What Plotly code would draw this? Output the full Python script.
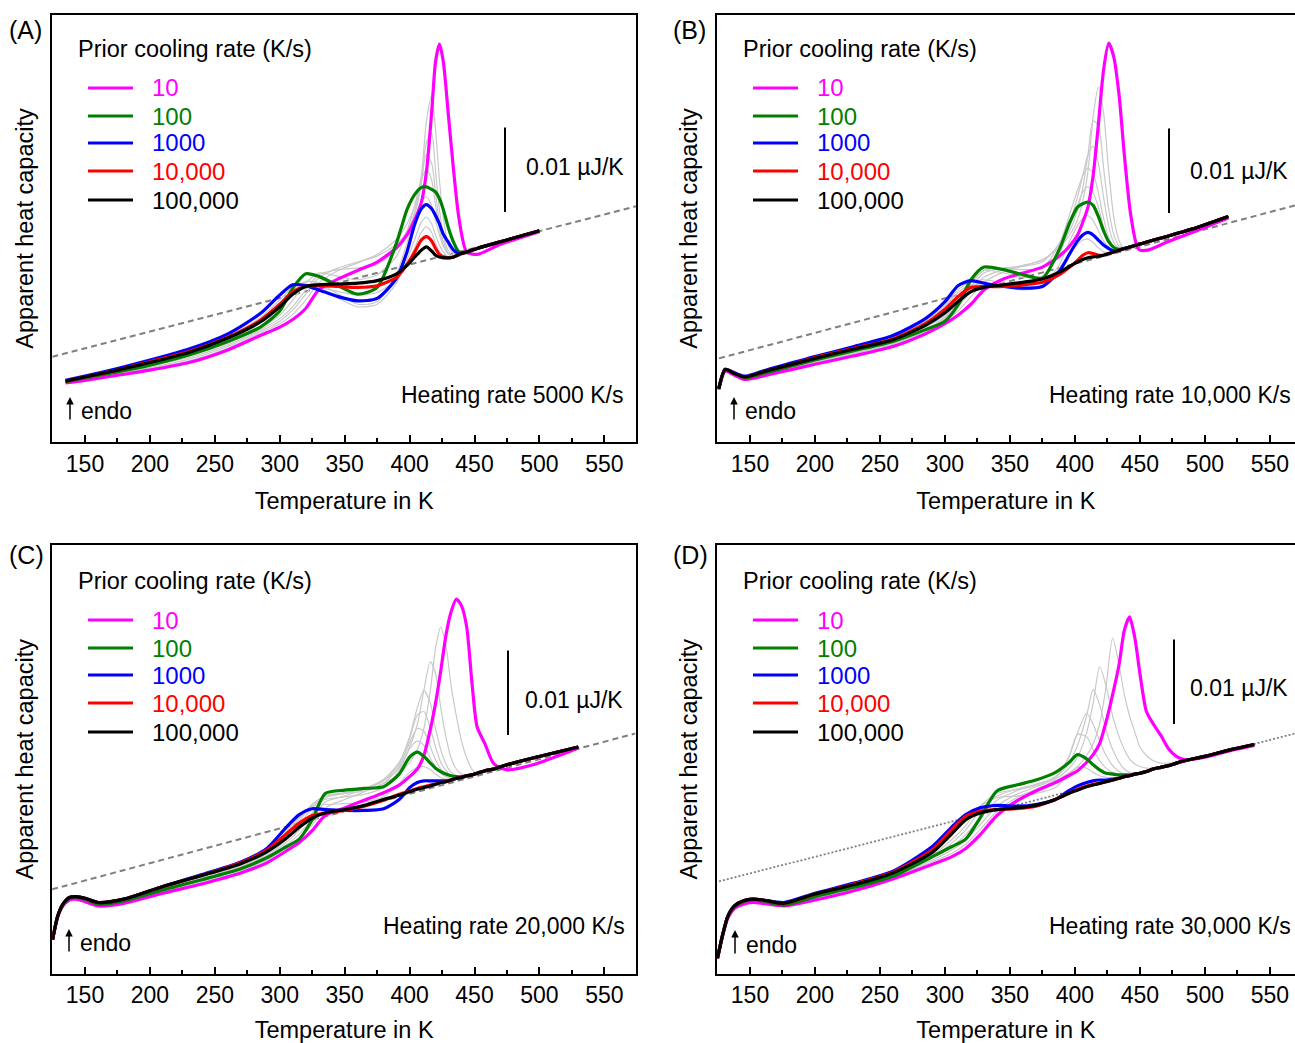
import plotly.graph_objects as go

W, H = 1295, 1043
FONT = "Liberation Sans, Arial, Helvetica, sans-serif"

# ---------------- labels ----------------
RATES = ["10", "100", "1000", "10,000", "100,000"]
COLORS = ["#ff00ff", "#008000", "#0000ff", "#ff0000", "#000000"]
HEATING = ["5000", "10,000", "20,000", "30,000"]
PANEL_TAGS = ["(A)", "(B)", "(C)", "(D)"]
LEGEND_TITLE = "Prior cooling rate (K/s)"
SCALE_UNITS = 10.0  # 0.01 uJ/K, y values are in units of 0.001 uJ/K (arbitrary offset)

# ---------------- panel A : heating 5000 K/s ----------------
TA = [135, 150, 175, 200, 230, 260, 285, 300, 310, 320, 330, 345, 360, 375, 390, 398, 404, 409, 413, 417,
      420, 423, 426, 430, 434, 438, 444, 452, 470, 500]
A_magenta = [7.0, 7.3, 7.9, 8.5, 9.4, 10.9, 12.6, 13.6, 14.5, 15.8, 18.0, 19.3, 20.3, 21.3, 23.0, 24.5, 26.3, 28.3, 32.0, 39.0,
             45.0, 47.1, 45.0, 38.5, 32.0, 26.5, 22.5, 22.2, 23.4, 24.9]
A_green = [7.1, 7.6, 8.3, 9.1, 10.3, 11.9, 13.6, 15.5, 18.2, 19.9, 19.6, 18.5, 17.5, 18.3, 23.6, 27.5, 29.3, 30.1, 30.2, 29.9,
           29.6, 28.8, 27.5, 25.3, 23.6, 22.5, 22.4, 22.9, 23.7, 25.0]
A_blue = [7.3, 7.8, 8.7, 9.7, 11.0, 12.8, 15.2, 17.4, 18.6, 18.5, 18.0, 17.2, 16.7, 17.0, 19.4, 22.5, 25.8, 27.6, 28.1, 27.6,
          26.8, 25.8, 24.6, 23.6, 22.7, 22.3, 22.5, 22.9, 23.7, 25.0]
A_red = [7.2, 7.7, 8.5, 9.5, 10.7, 12.4, 14.4, 16.3, 17.8, 18.4, 18.5, 18.4, 18.3, 18.5, 19.5, 21.0, 22.5, 23.9, 24.3, 23.8,
         22.9, 22.2, 21.9, 21.8, 21.9, 22.2, 22.5, 22.9, 23.7, 25.0]
A_black = [7.2, 7.7, 8.5, 9.4, 10.6, 12.3, 14.2, 16.0, 17.5, 18.4, 18.6, 18.7, 18.8, 19.1, 19.9, 20.9, 21.9, 22.7, 23.1, 22.6,
           22.1, 21.9, 21.8, 21.8, 21.9, 22.2, 22.5, 22.9, 23.7, 25.0]
A_gray_1 = [7.0, 7.4, 8.0, 8.7, 9.6, 11.1, 12.9, 14.0, 15.1, 16.8, 18.8, 20.3, 21.2, 22.2, 24.0, 25.8, 28.0, 31.5, 38.0, 41.0,
            37.0, 31.0, 26.5, 23.2, 22.3, 22.2, 22.4, 22.8, 23.6, 25.0]
A_gray_2 = [7.0, 7.5, 8.1, 8.8, 9.8, 11.3, 13.1, 14.3, 15.6, 17.5, 19.4, 20.6, 21.3, 22.0, 23.4, 24.9, 27.0, 30.5, 35.5, 36.5,
            32.0, 27.5, 24.5, 22.6, 22.0, 22.1, 22.4, 22.8, 23.6, 25.0]
A_gray_3 = [7.0, 7.5, 8.2, 9.0, 10.0, 11.5, 13.3, 14.6, 16.0, 18.0, 19.8, 20.4, 20.6, 21.0, 22.8, 24.8, 27.3, 31.0, 34.0, 33.0,
            29.5, 26.0, 23.8, 22.3, 21.9, 22.0, 22.4, 22.8, 23.6, 25.0]
A_gray_4 = [7.1, 7.6, 8.3, 9.1, 10.2, 11.7, 13.5, 15.0, 16.8, 18.8, 20.0, 19.6, 19.2, 19.8, 22.0, 25.0, 28.0, 31.0, 32.3, 31.0,
            28.0, 25.2, 23.4, 22.2, 21.9, 22.0, 22.4, 22.8, 23.6, 25.0]
A_gray_5 = [7.2, 7.7, 8.5, 9.4, 10.6, 12.2, 14.2, 16.0, 17.8, 19.0, 18.8, 17.5, 16.3, 16.6, 20.0, 23.5, 26.5, 28.5, 29.0, 28.0,
            26.2, 24.5, 23.2, 22.2, 21.9, 22.0, 22.4, 22.8, 23.6, 25.0]
A_gray_6 = [7.2, 7.7, 8.6, 9.5, 10.8, 12.5, 14.7, 16.8, 18.3, 18.6, 18.1, 17.0, 16.0, 16.3, 18.8, 21.5, 24.0, 26.0, 26.6, 25.8,
            24.5, 23.3, 22.5, 21.9, 21.8, 22.0, 22.4, 22.8, 23.6, 25.0]
A_gray_7 = [7.2, 7.7, 8.5, 9.4, 10.7, 12.4, 14.5, 16.4, 18.0, 18.5, 18.3, 17.8, 17.4, 17.7, 19.2, 21.0, 23.0, 24.8, 25.5, 24.8,
            23.5, 22.6, 22.0, 21.8, 21.8, 22.0, 22.4, 22.8, 23.6, 25.0]
A_base_T = [124.8, 574.4]
A_base_v = [10.1, 27.9]

# ---------------- panel B : heating 10,000 K/s ----------------
TB = [126, 131, 138, 146, 160, 180, 200, 230, 260, 285, 300, 310, 320, 330, 345, 360, 375, 388, 396, 402,
      406, 410, 414, 418, 422, 426, 430, 434, 438, 443, 449, 456, 470, 490, 518]
B_magenta = [6.2, 8.4, 7.9, 7.4, 7.8, 8.5, 9.2, 10.2, 11.3, 12.8, 14.0, 15.0, 16.3, 18.0, 19.3, 20.0, 20.7, 22.0, 23.2, 24.5,
             26.0, 27.8, 31.5, 37.5, 44.0, 47.2, 45.5, 41.0, 34.0, 26.8, 22.8, 22.7, 23.6, 24.8, 26.5]
B_green = [6.3, 8.5, 8.1, 7.6, 8.1, 8.9, 9.7, 10.8, 11.9, 13.3, 14.3, 16.2, 19.2, 20.7, 20.4, 19.8, 19.4, 22.8, 26.0, 27.8,
           28.2, 28.4, 28.0, 26.7, 25.0, 23.7, 23.0, 22.8, 22.9, 23.1, 23.4, 23.7, 24.3, 25.2, 26.7]
B_blue = [6.3, 8.6, 8.2, 7.8, 8.4, 9.3, 10.1, 11.3, 12.6, 14.6, 16.6, 18.5, 19.1, 18.8, 18.4, 18.2, 18.4, 20.2, 22.3, 23.8,
          24.5, 24.8, 24.5, 23.9, 23.3, 22.9, 22.6, 22.7, 22.9, 23.1, 23.4, 23.7, 24.3, 25.2, 26.7]
B_red = [6.3, 8.6, 8.1, 7.7, 8.3, 9.1, 10.0, 11.1, 12.2, 14.0, 15.7, 17.2, 18.3, 18.4, 18.4, 18.6, 18.9, 19.8, 20.7, 21.5,
         22.1, 22.4, 22.3, 22.1, 22.1, 22.3, 22.5, 22.7, 22.9, 23.1, 23.4, 23.7, 24.3, 25.2, 26.7]
B_black = [6.3, 8.6, 8.1, 7.7, 8.3, 9.1, 9.9, 11.0, 12.1, 13.8, 15.3, 16.6, 17.8, 18.3, 18.6, 18.9, 19.3, 20.1, 20.8, 21.3,
           21.6, 21.8, 21.9, 22.0, 22.1, 22.3, 22.5, 22.7, 22.9, 23.1, 23.4, 23.7, 24.3, 25.2, 26.7]
B_gray_1 = [6.2, 8.4, 8.0, 7.5, 7.9, 8.6, 9.3, 10.4, 11.5, 13.0, 14.3, 15.5, 17.2, 18.9, 20.1, 20.8, 21.6, 23.0, 24.5, 26.3,
            28.5, 32.0, 38.5, 42.0, 39.0, 32.0, 26.5, 23.8, 22.9, 22.9, 23.2, 23.6, 24.3, 25.2, 26.7]
B_gray_2 = [6.2, 8.4, 8.0, 7.5, 8.0, 8.7, 9.4, 10.5, 11.6, 13.1, 14.5, 16.0, 17.8, 19.5, 20.4, 20.9, 21.5, 23.2, 25.0, 27.5,
            30.0, 34.0, 38.0, 37.5, 32.5, 27.5, 24.5, 23.2, 22.9, 23.0, 23.3, 23.7, 24.3, 25.2, 26.7]
B_gray_3 = [6.3, 8.5, 8.0, 7.6, 8.0, 8.8, 9.5, 10.6, 11.7, 13.2, 14.7, 16.4, 18.4, 20.0, 20.6, 20.8, 21.3, 23.5, 26.0, 29.0,
            31.5, 34.0, 35.0, 33.0, 29.0, 25.5, 23.6, 22.9, 22.9, 23.1, 23.4, 23.7, 24.3, 25.2, 26.7]
B_gray_4 = [6.3, 8.5, 8.0, 7.6, 8.1, 8.9, 9.6, 10.7, 11.8, 13.3, 14.8, 16.6, 18.8, 20.3, 20.6, 20.4, 20.6, 23.4, 27.0, 29.8,
            31.5, 32.4, 31.8, 29.5, 26.5, 24.2, 23.0, 22.8, 22.9, 23.1, 23.4, 23.7, 24.3, 25.2, 26.7]
B_gray_5 = [6.3, 8.5, 8.1, 7.6, 8.2, 9.0, 9.7, 10.9, 12.0, 13.6, 15.0, 17.0, 19.0, 20.3, 20.0, 19.5, 19.6, 22.2, 25.5, 28.0,
            29.6, 30.2, 29.5, 27.8, 25.5, 23.8, 23.0, 22.8, 22.9, 23.1, 23.4, 23.7, 24.3, 25.2, 26.7]
B_gray_6 = [6.3, 8.6, 8.1, 7.7, 8.3, 9.2, 10.0, 11.2, 12.4, 14.3, 16.2, 18.0, 19.0, 19.2, 18.8, 18.3, 18.6, 21.0, 23.8, 25.6,
            26.5, 26.8, 26.2, 25.0, 23.8, 23.0, 22.6, 22.7, 22.9, 23.1, 23.4, 23.7, 24.3, 25.2, 26.7]
B_gray_7 = [6.3, 8.6, 8.1, 7.7, 8.3, 9.2, 10.0, 11.2, 12.4, 14.2, 16.0, 17.7, 18.6, 18.7, 18.5, 18.0, 18.4, 20.6, 22.3, 23.4,
            23.9, 24.0, 23.6, 23.0, 22.5, 22.3, 22.5, 22.7, 22.9, 23.1, 23.4, 23.7, 24.3, 25.2, 26.7]
B_base_T = [126.2, 569.3]
B_base_v = [9.9, 28.0]

# ---------------- panel C : heating 20,000 K/s ----------------
TC = [125, 129, 133, 138, 143, 150, 160, 180, 210, 240, 270, 290, 305, 315, 325, 335, 350, 365, 380, 392,
      400, 406, 411, 416, 420, 424, 428, 432, 436, 440, 444, 448, 452, 458, 465, 475, 495, 530]
C_magenta = [4.0, 6.7, 8.0, 8.7, 8.8, 8.5, 8.0, 8.3, 9.5, 10.6, 11.9, 13.1, 14.5, 15.5, 16.9, 18.7, 19.6, 20.5, 21.4, 22.3,
             23.3, 24.2, 25.8, 28.9, 32.0, 35.8, 40.0, 42.8, 44.3, 43.5, 41.0, 34.5, 29.2, 27.2, 24.8, 24.1, 24.7, 26.7]
C_green = [4.0, 6.8, 8.1, 8.9, 9.0, 8.8, 8.2, 8.6, 9.9, 11.1, 12.4, 13.7, 15.0, 15.9, 18.2, 21.3, 21.7, 21.9, 22.1, 23.6,
           25.6, 26.2, 25.7, 24.9, 24.3, 23.9, 23.6, 23.4, 23.3, 23.3, 23.4, 23.5, 23.7, 24.0, 24.2, 24.7, 25.5, 26.8]
C_blue = [4.0, 6.8, 8.2, 9.0, 9.1, 8.9, 8.4, 8.8, 10.3, 11.7, 13.2, 14.8, 17.3, 18.8, 19.5, 19.4, 19.3, 19.3, 19.5, 20.6,
          22.0, 22.6, 22.8, 22.8, 22.8, 22.8, 22.8, 22.9, 23.1, 23.2, 23.4, 23.5, 23.7, 24.0, 24.2, 24.7, 25.5, 26.8]
C_red = [4.0, 6.8, 8.2, 9.0, 9.1, 8.9, 8.4, 8.8, 10.3, 11.6, 13.1, 14.6, 16.5, 17.8, 18.7, 19.0, 19.3, 19.8, 20.5, 21.2,
         21.6, 21.9, 22.1, 22.3, 22.4, 22.6, 22.7, 22.9, 23.1, 23.2, 23.4, 23.5, 23.7, 24.0, 24.2, 24.7, 25.5, 26.8]
C_black = [4.0, 6.8, 8.2, 9.0, 9.1, 8.9, 8.4, 8.8, 10.3, 11.6, 13.0, 14.4, 16.0, 17.3, 18.4, 19.0, 19.4, 19.9, 20.6, 21.1,
           21.5, 21.8, 22.0, 22.2, 22.4, 22.6, 22.7, 22.9, 23.1, 23.2, 23.4, 23.5, 23.7, 24.0, 24.2, 24.7, 25.5, 26.8]
C_gray_1 = [4.0, 6.7, 8.1, 8.8, 8.9, 8.6, 8.0, 8.4, 9.6, 10.8, 12.1, 13.4, 14.9, 16.0, 17.6, 19.6, 20.6, 21.5, 22.5, 23.6,
            25.0, 26.5, 29.0, 33.5, 38.5, 41.0, 38.8, 34.0, 30.5, 27.5, 25.5, 24.2, 23.7, 23.8, 24.1, 24.6, 25.5, 26.8]
C_gray_2 = [4.0, 6.7, 8.1, 8.8, 9.0, 8.7, 8.1, 8.5, 9.7, 11.0, 12.3, 13.6, 15.2, 16.5, 18.3, 20.3, 21.0, 21.8, 22.8, 24.3,
            26.8, 29.5, 33.5, 36.9, 35.5, 31.5, 28.0, 25.5, 24.2, 23.6, 23.5, 23.5, 23.7, 24.0, 24.2, 24.7, 25.5, 26.8]
C_gray_3 = [4.0, 6.7, 8.2, 8.9, 9.0, 8.7, 8.2, 8.6, 9.8, 11.1, 12.4, 13.8, 15.5, 17.0, 19.0, 20.8, 21.3, 21.9, 23.0, 25.0,
            28.0, 31.5, 33.5, 32.0, 29.0, 26.5, 24.8, 23.8, 23.4, 23.3, 23.4, 23.5, 23.7, 24.0, 24.2, 24.7, 25.5, 26.8]
C_gray_4 = [4.0, 6.8, 8.2, 8.9, 9.1, 8.8, 8.2, 8.7, 9.9, 11.2, 12.6, 14.0, 15.8, 17.6, 19.6, 21.0, 21.4, 21.8, 22.8, 24.8,
            27.8, 30.6, 31.0, 29.0, 26.8, 25.0, 24.0, 23.4, 23.2, 23.2, 23.4, 23.5, 23.7, 24.0, 24.2, 24.7, 25.5, 26.8]
C_gray_5 = [4.0, 6.8, 8.2, 8.9, 9.1, 8.8, 8.3, 8.7, 10.0, 11.3, 12.7, 14.2, 16.2, 18.0, 20.0, 21.0, 21.3, 21.6, 22.5, 24.5,
            27.3, 29.0, 28.7, 26.8, 25.3, 24.2, 23.6, 23.3, 23.2, 23.2, 23.4, 23.5, 23.7, 24.0, 24.2, 24.7, 25.5, 26.8]
C_gray_6 = [4.0, 6.8, 8.3, 9.0, 9.2, 8.9, 8.3, 8.8, 10.1, 11.4, 12.8, 14.3, 16.4, 18.3, 20.0, 20.6, 20.9, 21.2, 22.0, 24.0,
            26.6, 27.5, 27.0, 25.5, 24.4, 23.7, 23.3, 23.1, 23.1, 23.2, 23.4, 23.5, 23.7, 24.0, 24.2, 24.7, 25.5, 26.8]
C_gray_7 = [4.0, 6.8, 8.3, 9.0, 9.2, 8.9, 8.4, 8.8, 10.2, 11.5, 12.9, 14.5, 16.8, 18.5, 19.8, 20.0, 20.1, 20.3, 20.9, 22.5,
            23.8, 24.4, 24.5, 24.1, 23.6, 23.2, 23.0, 23.0, 23.1, 23.2, 23.4, 23.5, 23.7, 24.0, 24.2, 24.7, 25.5, 26.8]
C_base_T = [124.6, 573.7]
C_base_v = [9.96, 28.4]

# ---------------- panel D : heating 30,000 K/s ----------------
TD = [125, 129, 133, 138, 145, 152, 160, 176, 200, 230, 260, 290, 305, 316, 327, 340, 355, 370, 385, 395,
      402, 409, 414, 419, 424, 429, 434, 438, 442, 446, 450, 455, 460, 466, 472, 478, 485, 500, 520, 538]
D_magenta = [1.8, 4.5, 6.6, 7.7, 8.2, 8.4, 8.3, 8.0, 8.7, 9.8, 11.2, 12.9, 13.8, 14.8, 16.4, 18.7, 20.4, 21.6, 22.6, 23.4,
             24.0, 25.0, 25.9, 27.2, 29.8, 33.0, 36.6, 40.6, 42.2, 39.8, 35.5, 31.0, 29.6, 28.2, 26.6, 25.7, 25.3, 25.6, 26.4, 27.0]
D_green = [1.8, 4.6, 6.7, 7.9, 8.5, 8.7, 8.6, 8.1, 9.1, 10.2, 11.5, 13.8, 15.0, 15.9, 18.4, 21.6, 22.3, 22.9, 23.8, 24.9,
           25.9, 25.4, 24.7, 24.1, 23.7, 23.6, 23.5, 23.5, 23.5, 23.6, 23.7, 23.9, 24.2, 24.4, 24.6, 24.9, 25.2, 25.7, 26.5, 27.1]
D_blue = [1.8, 4.6, 6.8, 8.0, 8.6, 8.8, 8.7, 8.4, 9.5, 10.7, 12.1, 15.0, 17.3, 18.8, 19.6, 19.9, 19.8, 20.0, 20.6, 21.6,
          22.2, 22.6, 22.8, 22.9, 22.9, 23.0, 23.1, 23.3, 23.4, 23.6, 23.7, 23.9, 24.2, 24.4, 24.6, 24.9, 25.2, 25.7, 26.5, 27.1]
D_red = [1.8, 4.6, 6.8, 8.0, 8.6, 8.8, 8.7, 8.3, 9.4, 10.6, 12.0, 14.6, 17.0, 18.6, 19.2, 19.4, 19.5, 19.8, 20.6, 21.3,
         21.8, 22.2, 22.4, 22.5, 22.7, 22.9, 23.1, 23.3, 23.4, 23.6, 23.7, 23.9, 24.2, 24.4, 24.6, 24.9, 25.2, 25.7, 26.5, 27.1]
D_black = [1.8, 4.6, 6.8, 8.0, 8.6, 8.8, 8.7, 8.3, 9.4, 10.5, 11.9, 14.3, 16.5, 18.2, 19.0, 19.4, 19.6, 19.9, 20.6, 21.3,
           21.7, 22.1, 22.3, 22.5, 22.7, 22.9, 23.1, 23.3, 23.4, 23.6, 23.7, 23.9, 24.2, 24.4, 24.6, 24.9, 25.2, 25.7, 26.5, 27.1]
D_gray_1 = [1.8, 4.5, 6.6, 7.8, 8.3, 8.5, 8.4, 8.1, 8.9, 10.0, 11.4, 13.2, 14.2, 15.3, 17.0, 19.2, 20.8, 21.8, 22.8, 23.7,
            24.5, 25.8, 27.2, 29.5, 34.0, 39.7, 36.5, 33.0, 30.5, 28.6, 26.8, 25.8, 25.2, 24.9, 24.9, 25.0, 25.3, 25.7, 26.5, 27.1]
D_gray_2 = [1.8, 4.5, 6.6, 7.8, 8.4, 8.6, 8.5, 8.2, 9.0, 10.1, 11.5, 13.4, 14.6, 15.8, 17.6, 19.8, 21.2, 22.1, 23.0, 24.2,
            25.6, 28.5, 32.0, 36.3, 34.0, 30.5, 28.0, 26.5, 25.4, 24.8, 24.5, 24.3, 24.3, 24.4, 24.6, 24.9, 25.2, 25.7, 26.5, 27.1]
D_gray_3 = [1.8, 4.6, 6.7, 7.9, 8.4, 8.6, 8.5, 8.2, 9.1, 10.2, 11.6, 13.6, 15.0, 16.4, 18.4, 20.5, 21.6, 22.3, 23.2, 24.8,
            27.0, 30.5, 33.6, 31.8, 28.8, 26.5, 25.0, 24.2, 23.8, 23.7, 23.8, 23.9, 24.2, 24.4, 24.6, 24.9, 25.2, 25.7, 26.5, 27.1]
D_gray_4 = [1.8, 4.6, 6.7, 7.9, 8.5, 8.7, 8.6, 8.2, 9.2, 10.3, 11.7, 13.8, 15.4, 17.0, 19.3, 21.0, 21.8, 22.4, 23.3, 25.5,
            28.5, 30.8, 29.5, 27.5, 25.8, 24.6, 23.9, 23.6, 23.5, 23.6, 23.7, 23.9, 24.2, 24.4, 24.6, 24.9, 25.2, 25.7, 26.5, 27.1]
D_gray_5 = [1.8, 4.6, 6.7, 7.9, 8.5, 8.7, 8.6, 8.3, 9.3, 10.4, 11.8, 14.0, 15.8, 17.5, 19.8, 21.3, 21.8, 22.3, 23.2, 25.5,
            28.3, 28.0, 26.5, 25.2, 24.3, 23.8, 23.5, 23.4, 23.4, 23.6, 23.7, 23.9, 24.2, 24.4, 24.6, 24.9, 25.2, 25.7, 26.5, 27.1]
D_gray_6 = [1.8, 4.6, 6.8, 8.0, 8.6, 8.8, 8.7, 8.3, 9.4, 10.6, 12.0, 14.5, 16.4, 18.0, 19.8, 20.8, 21.0, 21.3, 22.0, 23.5,
            24.4, 24.3, 23.8, 23.4, 23.2, 23.1, 23.1, 23.3, 23.4, 23.6, 23.7, 23.9, 24.2, 24.4, 24.6, 24.9, 25.2, 25.7, 26.5, 27.1]
D_base_T = [126.2, 569.3]
D_base_v = [10.9, 28.4]

# ---------------- assemble ----------------
panels = [
    dict(T=TA, colored=[A_magenta, A_green, A_blue, A_red, A_black],
         grays=[A_gray_1, A_gray_2, A_gray_3, A_gray_4, A_gray_5, A_gray_6, A_gray_7],
         bT=A_base_T, bv=A_base_v, dash="dash"),
    dict(T=TB, colored=[B_magenta, B_green, B_blue, B_red, B_black],
         grays=[B_gray_1, B_gray_2, B_gray_3, B_gray_4, B_gray_5, B_gray_6, B_gray_7],
         bT=B_base_T, bv=B_base_v, dash="dash"),
    dict(T=TC, colored=[C_magenta, C_green, C_blue, C_red, C_black],
         grays=[C_gray_1, C_gray_2, C_gray_3, C_gray_4, C_gray_5, C_gray_6, C_gray_7],
         bT=C_base_T, bv=C_base_v, dash="dash"),
    dict(T=TD, colored=[D_magenta, D_green, D_blue, D_red, D_black],
         grays=[D_gray_1, D_gray_2, D_gray_3, D_gray_4, D_gray_5, D_gray_6],
         bT=D_base_T, bv=D_base_v, dash="dot"),
]


def px(x):
    return x / W


def py(y):
    return 1 - y / H


PXU = 8.45  # pixels per y-unit
# plot frames in pixels: (left, right, top, bottom)
frames = [(52.3, 636.0, 15.0, 442.0), (716.7, 1295.0, 15.0, 442.0),
          (52.3, 636.0, 545.0, 973.5), (716.7, 1295.0, 545.0, 973.5)]
xranges = [[124.8, 574.4], [124.4, 569.3], [124.8, 574.4], [124.4, 569.3]]
axis_ids = [("x", "y"), ("x2", "y2"), ("x3", "y3"), ("x4", "y4")]

fig = go.Figure()
for i, p in enumerate(panels):
    xa, ya = axis_ids[i]
    fig.add_trace(go.Scatter(x=p["bT"], y=p["bv"], mode="lines", xaxis=xa, yaxis=ya,
                             line=dict(color="#808080", width=2 if p["dash"] == "dash" else 1.8,
                                       dash="6px,4px" if p["dash"] == "dash" else "2px,2px"),
                             showlegend=False, hoverinfo="skip"))
    for g in p["grays"]:
        fig.add_trace(go.Scatter(x=p["T"], y=g, mode="lines", xaxis=xa, yaxis=ya,
                                 line=dict(color="#c9c9c9", width=1.2, shape="spline", smoothing=0.7),
                                 showlegend=False, hoverinfo="skip"))
    for name, col, vals in zip(RATES, COLORS, p["colored"]):
        fig.add_trace(go.Scatter(x=p["T"], y=vals, mode="lines", xaxis=xa, yaxis=ya,
                                 name=name + " K/s", showlegend=False,
                                 line=dict(color=col, width=3.2, shape="spline", smoothing=0.7)))

layout = dict(width=W, height=H, margin=dict(l=0, r=0, t=0, b=0),
              paper_bgcolor="white", plot_bgcolor="white", template="none",
              font=dict(family=FONT, size=23, color="black"), showlegend=False)

shapes = []
annotations = []
scale_pos = [(505, 212), (1169, 213), (508, 735), (1174, 724)]  # pixel position of bar bottom
scale_text = [(524, 167), (1188, 171), (523, 700), (1188, 688)]
heat_pos = [(625, 395), (1293, 395), (627, 926), (1293, 926)]
legend_pos = [(76, 49), (741, 49), (76, 581), (741, 581)]  # title left / centre
tag_pos = [(7, 30), (671, 30), (7, 555), (671, 555)]
endo_pos = [(70, 421, 397), (734, 421, 397), (69, 953, 929), (735, 955, 930)]
LEG_ROWS = [39, 67, 94, 122, 151]  # row offsets below title centre


def txt(text, x, y, size, xanchor="left", color="black"):
    return dict(text=text, x=px(x), y=py(y), xref="paper", yref="paper", xanchor=xanchor, yanchor="middle",
                showarrow=False, font=dict(size=size, family=FONT, color=color))


for i in range(4):
    l, r, t, b = frames[i]
    xa, ya = axis_ids[i]
    xr = xranges[i]
    yr = [0, (b - t) / PXU]
    key_x = "xaxis" if i == 0 else "xaxis%d" % (i + 1)
    key_y = "yaxis" if i == 0 else "yaxis%d" % (i + 1)
    layout[key_x] = dict(domain=[px(l), px(r)], range=xr, anchor=ya, showline=True, linecolor="black",
                         linewidth=2, mirror=True, ticks="inside", ticklen=7, tickwidth=2, tickcolor="black",
                         dtick=50, tick0=0, showgrid=False, zeroline=False,
                         minor=dict(ticks="inside", ticklen=4, tickwidth=2, tickcolor="black", dtick=25, tick0=0,
                                    showgrid=False),
                         tickfont=dict(size=23, family=FONT, color="black"),
                         title=dict(text="Temperature in K", font=dict(size=23.5, family=FONT), standoff=17))
    layout[key_y] = dict(domain=[py(b), py(t)], range=yr, anchor=xa, showline=True, linecolor="black",
                         linewidth=2, mirror=(i in (0, 2)), ticks="", showticklabels=False, showgrid=False,
                         zeroline=False,
                         title=dict(text="Apparent heat capacity", font=dict(size=23.5, family=FONT), standoff=10))
    # legend (drawn as text + line keys)
    lx, ly = legend_pos[i]
    annotations.append(txt(LEGEND_TITLE, lx, ly, 23.5))
    for name, col, dy in zip(RATES, COLORS, LEG_ROWS):
        shapes.append(dict(type="line", xref="paper", yref="paper", x0=px(lx + 12), x1=px(lx + 57),
                           y0=py(ly + dy), y1=py(ly + dy), line=dict(color=col, width=3.2)))
        annotations.append(txt(name, lx + 74, ly + dy, 24, color=col))
    # scale bar (10 units = 0.01 uJ/K) in data coordinates
    sx, sy = scale_pos[i]
    T_bar = xr[0] + (sx - l) / (r - l) * (xr[1] - xr[0])
    v_bar = (b - sy) / PXU
    shapes.append(dict(type="line", xref=xa, yref=ya, x0=T_bar, x1=T_bar, y0=v_bar, y1=v_bar + SCALE_UNITS,
                       line=dict(color="black", width=2)))
    tx, ty = scale_text[i]
    annotations.append(txt("0.01 µJ/K", tx, ty, 23))
    hx, hy = heat_pos[i]
    annotations.append(txt("Heating rate %s K/s" % HEATING[i], hx, hy, 23, xanchor="right"))
    gx, gy = tag_pos[i]
    annotations.append(txt(PANEL_TAGS[i], gx, gy, 25))
    ex, ey0, ey1 = endo_pos[i]
    annotations.append(dict(text="", x=px(ex), y=py(ey1), ax=0, ay=ey0 - ey1, xref="paper", yref="paper",
                            showarrow=True, arrowhead=2, arrowsize=1, arrowwidth=1.5, arrowcolor="black"))
    annotations.append(txt("endo", ex + 9, (ey0 + ey1) / 2 + 2, 23))

layout["shapes"] = shapes
layout["annotations"] = annotations
fig.update_layout(**layout)
fig.write_html("out.html")
